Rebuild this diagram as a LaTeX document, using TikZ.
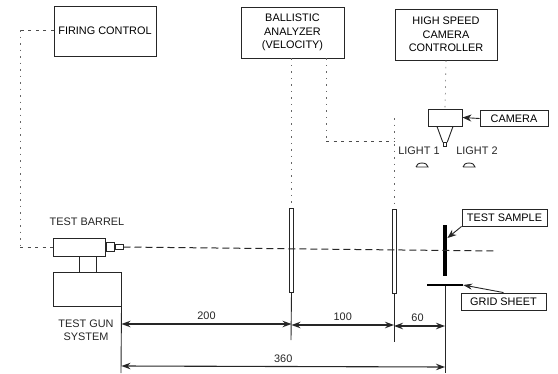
\documentclass[tikz,border=0pt]{standalone}
\usepackage{fontspec}
\setmainfont{Liberation Sans}
\usetikzlibrary{arrows.meta,calc}
\tikzset{
 box/.style={draw=black!85,line width=.9pt,inner sep=0pt,align=center,font=\fontsize{10.9}{13.6}\selectfont},
 lab/.style={inner sep=0pt,align=center,font=\fontsize{10.9}{13.2}\selectfont,text=black!85},
 solidline/.style={draw=black!85,line width=.9pt},
 sig/.style={draw=black!60,line width=.6pt,dash pattern=on 1.5pt off 5pt},
 sigh/.style={draw=black!70,line width=.6pt,dash pattern=on 3pt off 4.5pt},
 axis/.style={draw=black!85,line width=1pt,dash pattern=on 7pt off 4pt},
 dim/.style={draw=black!85,line width=1.1pt,{Stealth[length=9pt,width=6.5pt]}-{Stealth[length=9pt,width=6.5pt]}},
 screen/.style={draw=black!85,fill=white,line width=.9pt,inner sep=0pt,minimum width=4pt},
}
\begin{document}
\begin{tikzpicture}[x=1pt,y=-1pt]
\useasboundingbox (0,0) rectangle (558,373);
% boxes with text
\node[box,minimum width=102pt,minimum height=50pt] (fire) at (105,31) {FIRING CONTROL};
\node[box,minimum width=103pt,minimum height=51pt] (ball) at (292.5,32.5) {BALLISTIC\\ANALYZER\\(VELOCITY)};
\node[box,minimum width=102pt,minimum height=51pt] (hsc) at (446,34.5) {HIGH SPEED\\CAMERA\\CONTROLLER};
\node[box,minimum width=68pt,minimum height=16pt] (cam) at (514,118.5) {CAMERA};
\node[box,minimum width=85pt,minimum height=17pt] (ts) at (504.5,217.5) {TEST SAMPLE};
\node[box,minimum width=85pt,minimum height=17pt] (gs) at (503.5,301.5) {GRID SHEET};
% camera
\node[draw=black!85,line width=.9pt,minimum width=34pt,minimum height=17pt,inner sep=0pt] (body) at (445,117.5) {};
\node[draw=black!85,line width=.9pt,fill=white,minimum size=3.5pt,inner sep=0pt] (lens) at (445,144.5) {};
\draw[solidline] ($(body.south)+(-8,0)$) -- (lens.north west);
\draw[solidline] ($(body.south)+(8,0)$) -- (lens.north east);
\draw[solidline,-{Stealth[length=9pt,width=7pt]}] (cam.west) -- (body.east);
\draw[sig] (hsc.south) -- (body.north);
% lights
\node[lab] (l1) at (419,150.5) {LIGHT 1};
\node[lab] (l2) at (477,150.5) {LIGHT 2};
\coordinate (d1) at (422,167);
\coordinate (d2) at (469,167);
\draw[solidline] ($(d1)+(-6,0)$) -- ($(d1)+(6,0)$) arc[start angle=0,end angle=-180,x radius=6,y radius=4];
\draw[solidline] ($(d2)+(-6,0)$) -- ($(d2)+(6,0)$) arc[start angle=0,end angle=-180,x radius=6,y radius=4];
% barrel and gun
\node[draw=black!85,line width=1pt,minimum width=52pt,minimum height=18pt,inner sep=0pt] (barrel) at (79,247) {};
\node[draw=black!85,line width=1pt,minimum width=8pt,minimum height=9pt,inner sep=0pt,anchor=west] (n1) at (barrel.east) {};
\node[draw=black!85,line width=1pt,minimum width=8pt,minimum height=5pt,inner sep=0pt,anchor=west] (n2) at (n1.east) {};
\node[draw=black!85,line width=1pt,minimum width=68pt,minimum height=34pt,inner sep=0pt] (gun) at (87,289) {};
\draw[solidline] (79,256) -- (79,272);
\draw[solidline] (96,256) -- (96,272);
\node[lab] (tb) at (87,222) {TEST BARREL};
\node[lab] (tg) at (86,330.5) {TEST GUN\\SYSTEM};
% screens
\node[screen,minimum height=84pt] (s1) at (291.5,250) {};
\node[screen,minimum height=84pt] (s2) at (394,251) {};
\coordinate (s1b) at (291,340);
\coordinate (s2b) at (394,342);
\draw[solidline] (s1.south) -- (s1b);
\draw[solidline] (s2.south) -- (s2b);
% sample and grid
\node[fill=black,minimum width=4.5pt,minimum height=51pt,inner sep=0pt] (sample) at (445,250.5) {};
\node[fill=black,minimum width=36pt,minimum height=2.5pt,inner sep=0pt] (grid) at (445,285) {};
\coordinate (base) at (445,373);
\coordinate (gbase) at (121,373);
\draw[solidline] (gun.south east) -- (gbase);
\draw[solidline] (grid.south) -- (base);
\draw[solidline,{Stealth[length=9pt,width=7pt]}-] (sample.east |- 0,238) -- (ts.south west);
\draw[solidline,{Stealth[length=9pt,width=6pt]}-] (grid.east) -- (gs.north);
% signal lines
\coordinate (fc) at (20,30);
\coordinate (fb) at (20,247);
\draw[sigh] (fire.west |- 0,30) -- (fc);
\draw[sig] (fc) -- (fb);
\draw[sigh] (fb) -- (barrel.west);
\draw[sig] (ball.south -| s1.north) -- (s1.north);
\coordinate (bc) at (326,141);
\coordinate (bd) at (394,141);
\draw[sig] (ball.south -| bc) -- (bc);
\draw[sigh] (bc) -- (bd);
\draw[sig] (394,118) -- (s2.north);
% axis
\coordinate (axe) at (496,251);
\draw[axis] (n2.east) -- (axe);
% dimensions
\draw[dim] (gun.east |- 0,324) -- node[lab,above=3.5pt] (d200) {200} (s1.center |- 0,324);
\draw[dim] (s1.center |- 0,325) -- node[lab,above=3.5pt] (d100) {100} (s2.center |- 0,325);
\draw[dim] (s2.center |- 0,326) -- node[lab,above=3.5pt,xshift=-2pt] (d60) {60} (sample.center |- 0,326);
\draw[dim] (gun.east |- 0,366) -- node[lab,above=3.5pt] (d360) {360} (sample.center |- 0,367);
\end{tikzpicture}
\end{document}
